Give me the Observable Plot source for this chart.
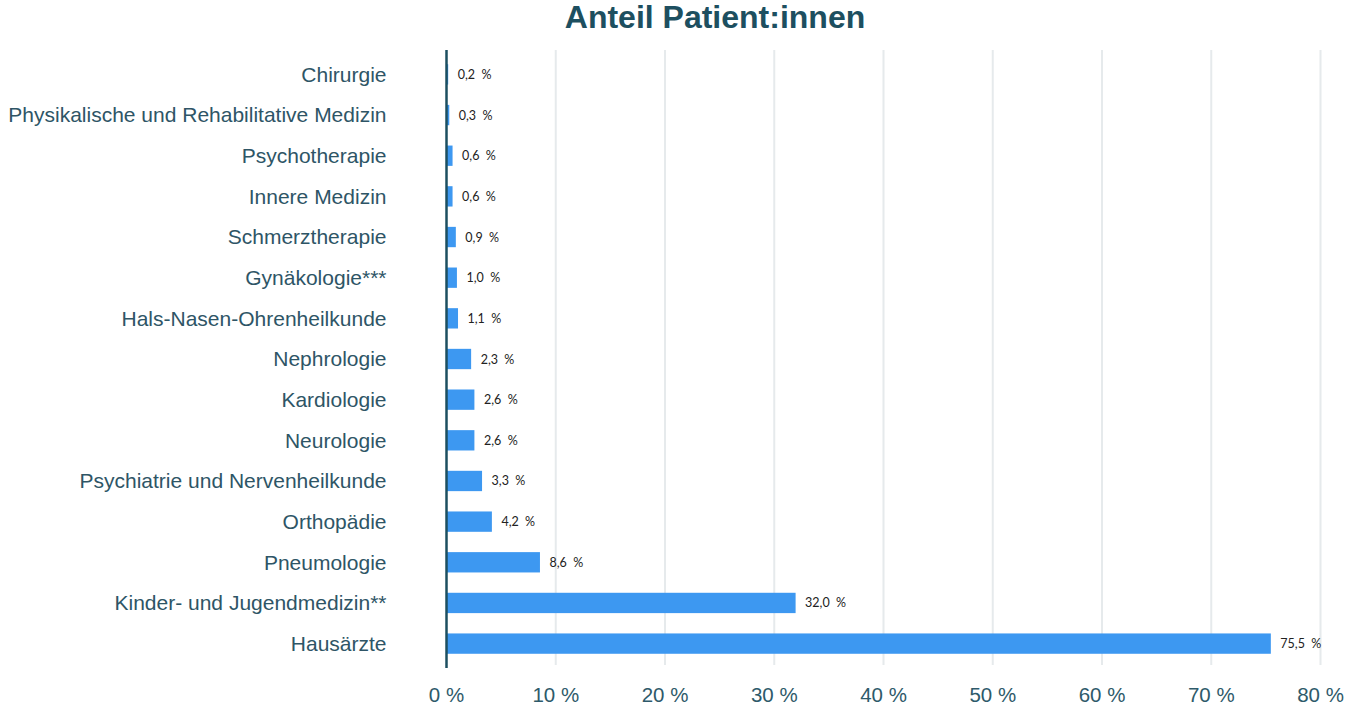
<!DOCTYPE html>
<html>
<head>
<meta charset="utf-8">
<script src="https://cdn.jsdelivr.net/npm/d3@7"></script>
<script src="https://cdn.jsdelivr.net/npm/@observablehq/plot@0.6"></script>
<style>
  html, body { margin: 0; padding: 0; background: #fff; }
  #wrap { position: relative; width: 1349px; height: 708px; }
  #title { position: absolute; left: 0; top: -3px; width: 1430px; text-align: center;
    font: bold 32px "Liberation Sans", Arial, sans-serif; color: #1d4f60; line-height: 40px; }
</style>
</head>
<body>
<div id="wrap"><div id="chart"></div><div id="title">Anteil Patient:innen</div></div>
<script>
const categories = [
  "Chirurgie",
  "Physikalische und Rehabilitative Medizin",
  "Psychotherapie",
  "Innere Medizin",
  "Schmerztherapie",
  "Gynäkologie***",
  "Hals-Nasen-Ohrenheilkunde",
  "Nephrologie",
  "Kardiologie",
  "Neurologie",
  "Psychiatrie und Nervenheilkunde",
  "Orthopädie",
  "Pneumologie",
  "Kinder- und Jugendmedizin**",
  "Hausärzte"
];
const values = [0.2, 0.3, 0.6, 0.6, 0.9, 1.0, 1.1, 2.3, 2.6, 2.6, 3.3, 4.2, 8.6, 32.0, 75.5];
const xTicks = [0, 10, 20, 30, 40, 50, 60, 70, 80];

const data = categories.map((c, i) => ({category: c, value: values[i]}));
const fmt = v => v.toFixed(1).replace(".", ",") + "  %";

const chart = Plot.plot({
  width: 1349,
  height: 708,
  marginLeft: 446,
  marginRight: 29,
  marginTop: 50,
  marginBottom: 40,
  style: {background: "#fff"},
  x: {domain: [0, 80], ticks: xTicks, label: null},
  y: {domain: categories, padding: 0.5, paddingOuter: 0.35, round: false, label: null},
  marks: [
    Plot.ruleX(xTicks.filter(d => d > 0), {stroke: "#e6eaec", strokeWidth: 2, insetBottom: 3}),
    Plot.barX(data, {y: "category", x: "value", fill: "#3d98f1"}),
    Plot.ruleX([0], {stroke: "#1d4f60", strokeWidth: 2.5}),
    Plot.text(data, {y: "category", x: "value", text: d => fmt(d.value), dx: 9, textAnchor: "start",
      fill: "#222", fontSize: 12.5, fontFamily: "Lato, 'Open Sans', sans-serif"}),
    Plot.axisX({ticks: xTicks, tickSize: 0, tickPadding: 19, tickFormat: d => d + " %",
      fontSize: 20.5, fill: "#2e5a6a", fontFamily: "'Liberation Sans', Arial, sans-serif"}),
    Plot.axisY({tickSize: 0, tickPadding: 60, fontSize: 21, fill: "#2e5566",
      fontFamily: "'Liberation Sans', Arial, sans-serif"})
  ]
});
document.getElementById("chart").appendChild(chart);
</script>
</body>
</html>
